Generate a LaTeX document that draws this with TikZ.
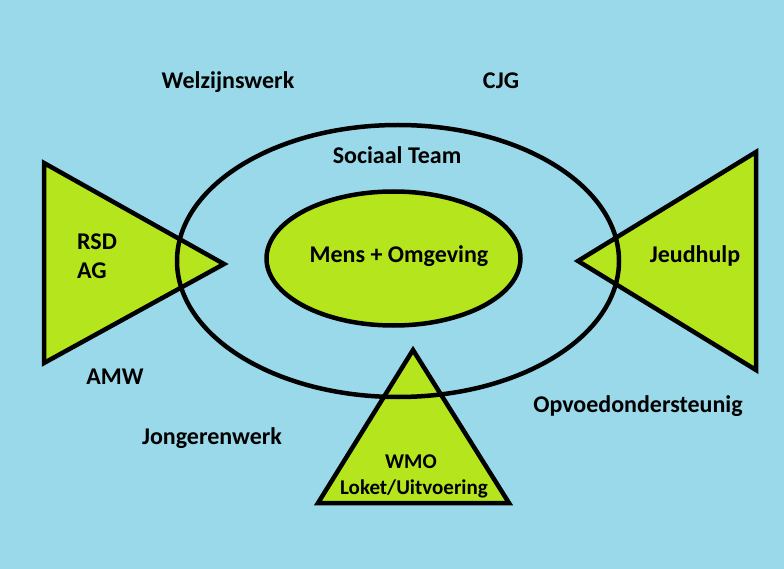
\documentclass[tikz,border=0pt]{standalone}
\usepackage{fontspec}
\setmainfont{Carlito}
\definecolor{bgblue}{HTML}{99D9EA}
\definecolor{limegreen}{HTML}{B5E61D}
\begin{document}
\begin{tikzpicture}[x=1pt,y=-1pt,
  lbl/.style={font=\bfseries\fontsize{24}{28}\selectfont, anchor=base, inner sep=0pt, text=black},
  smalllbl/.style={font=\bfseries\fontsize{21}{25}\selectfont, anchor=base, inner sep=0pt, text=black},
  tri/.style={draw=black, fill=limegreen, line width=4.5pt},
  ring/.style={draw=black, line width=4.5pt}]
\fill[bgblue] (0,0) rectangle (784,569);
\useasboundingbox (0,0) rectangle (784,569);
% triangles
\draw[tri] (44,163) -- (44,363) -- (224,264) -- cycle;
\draw[tri] (756,152) -- (756,370) -- (578,261) -- cycle;
\draw[tri] (413,350) -- (509,503) -- (318,503) -- cycle;
% outer ellipse
\draw[ring] (398,261) ellipse [x radius=221pt, y radius=136pt];
% inner ellipse
\draw[ring, fill=limegreen] (393.5,258.5) ellipse [x radius=127pt, y radius=67pt];
% labels
\node[lbl] (welz) at (228,89) {Welzijnswerk};
\node[lbl] (cjg) at (501,89) {CJG};
\node[lbl] (soc) at (397,164) {Sociaal Team};
\node[lbl, anchor=base west] (rsd) at (77,250) {RSD};
\node[lbl, anchor=base west] (ag) at (77,279) {AG};
\node[lbl] (jeud) at (695,262) {Jeudhulp};
\node[lbl] (mens) at (399,262) {Mens + Omgeving};
\node[smalllbl] (wmo) at (411,468) {WMO};
\node[smalllbl] (loket) at (414,494) {Loket/Uitvoering};
\node[lbl] (amw) at (115,384) {AMW};
\node[lbl] (jong) at (212,444) {Jongerenwerk};
\node[lbl] (opv) at (638,412) {Opvoedondersteunig};
\end{tikzpicture}
\end{document}
